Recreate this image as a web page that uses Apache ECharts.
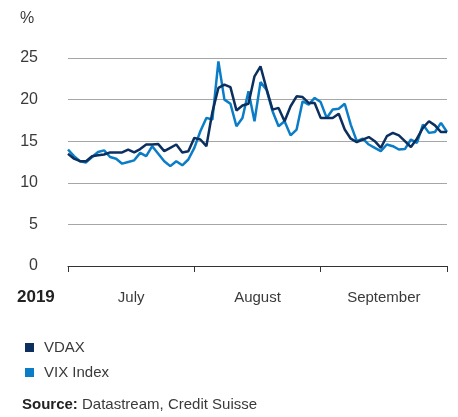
<!DOCTYPE html>
<html>
<head>
<meta charset="utf-8">
<script src="https://cdn.jsdelivr.net/npm/echarts@6/dist/echarts.min.js"></script>
<style>
html,body{margin:0;padding:0;background:#fff;}
#c{width:458px;height:417px;}
</style>
</head>
<body>
<div id="c"></div>
<script>
// Trading-day index (0..63), July–September 2019
const months = ['July', 'August', 'September'];
const yTicks = [0, 5, 10, 15, 20, 25];
const vdax = [13.5,12.9,12.6,12.6,13.2,13.3,13.4,13.65,13.65,13.65,14.0,13.65,14.05,14.6,14.6,14.65,13.8,14.2,14.6,13.65,13.8,15.4,15.2,14.4,18.5,21.4,21.8,21.5,18.7,19.3,19.5,22.8,24.0,21.3,18.8,19.0,17.4,19.2,20.4,20.3,19.6,19.6,17.8,17.8,17.8,18.3,16.4,15.3,14.9,15.2,15.5,15.0,14.2,15.6,16.0,15.7,15.0,14.3,15.3,16.6,17.4,16.9,16.1,16.1];
const vix = [14.0,13.2,12.6,12.45,13.1,13.7,13.9,13.1,12.9,12.3,12.5,12.7,13.6,13.2,14.4,13.5,12.6,12.0,12.6,12.1,12.8,14.2,16.2,17.8,17.6,24.6,20.0,19.5,16.8,17.8,21.0,17.4,22.1,21.2,18.6,16.8,17.4,15.7,16.4,19.8,19.4,20.2,19.7,17.8,18.8,18.9,19.5,17.0,15.0,15.3,14.6,14.2,13.8,14.6,14.4,14.0,14.05,15.2,14.8,17.0,16.0,16.1,17.2,16.1];
const seriesNames = ['VDAX', 'VIX Index'];
const colors = ['#0b2f5f', '#0a7dc6'];

const nPts = vdax.length;
const span = nPts - 1;
const monthLen = span / months.length;
const toPairs = arr => arr.map((v, i) => [i, v]);

const chart = echarts.init(document.getElementById('c'), null, {renderer: 'canvas'});
const font = 'Liberation Sans, Arial, sans-serif';
const txt = '#3a3a3a';

chart.setOption({
  animation: false,
  backgroundColor: '#ffffff',
  color: colors,
  textStyle: {fontFamily: font},
  grid: {left: 68, right: 11, top: 58, bottom: 151, containLabel: false},
  xAxis: [
    {
      type: 'value', min: 0, max: span, interval: monthLen,
      axisLine: {show: true, lineStyle: {color: '#333', width: 1}},
      axisTick: {show: true, inside: false, length: 6, lineStyle: {color: '#333', width: 1}},
      axisLabel: {show: false},
      splitLine: {show: false}
    },
    {
      type: 'value', min: 0, max: span, interval: monthLen / 2, position: 'bottom',
      axisLine: {show: false}, axisTick: {show: false}, splitLine: {show: false},
      axisLabel: {
        show: true, margin: 24, fontSize: 15, color: txt, fontFamily: font,
        showMinLabel: false, showMaxLabel: false,
        formatter: v => {
          const k = Math.round(v / monthLen - 0.5);
          return Math.abs(v / monthLen - 0.5 - k) < 1e-6 && months[k] ? months[k] : '';
        }
      }
    }
  ],
  yAxis: {
    type: 'value', min: yTicks[0], max: yTicks[yTicks.length - 1], interval: 5,
    axisLine: {show: false}, axisTick: {show: false},
    axisLabel: {margin: 30, fontSize: 16, color: txt, fontFamily: font, padding: [0, 0, 4, 0]},
    splitLine: {show: true, lineStyle: {color: '#a6a6a6', width: 1}}
  },
  legend: {
    orient: 'vertical', left: 20, top: 335, itemWidth: 9, itemHeight: 9, itemGap: 10,
    icon: 'rect', selectedMode: false,
    textStyle: {fontSize: 15, color: txt, fontFamily: font, padding: [0, 0, 0, 5]},
    data: seriesNames
  },
  graphic: [
    {type: 'text', left: 20, top: 11, style: {text: '%', fontSize: 16, fill: txt, fontFamily: font}},
    {type: 'text', left: 17, top: 289, style: {text: '2019', fontSize: 17, fontWeight: 'bold', fill: '#222', fontFamily: font}},
    {type: 'text', left: 22, top: 397, style: {
      text: '{b|Source:} Datastream, Credit Suisse',
      rich: {b: {fontWeight: 'bold', fontSize: 15, fill: '#222', fontFamily: font}},
      fontSize: 15, fill: txt, fontFamily: font}}
  ],
  series: [
    {name: seriesNames[0], type: 'line', xAxisIndex: 0, data: toPairs(vdax), symbol: 'none',
     lineStyle: {width: 2.5, color: colors[0]}, z: 3},
    {name: seriesNames[1], type: 'line', xAxisIndex: 0, data: toPairs(vix), symbol: 'none',
     lineStyle: {width: 2.5, color: colors[1]}, z: 2}
  ]
});
</script>
</body>
</html>
